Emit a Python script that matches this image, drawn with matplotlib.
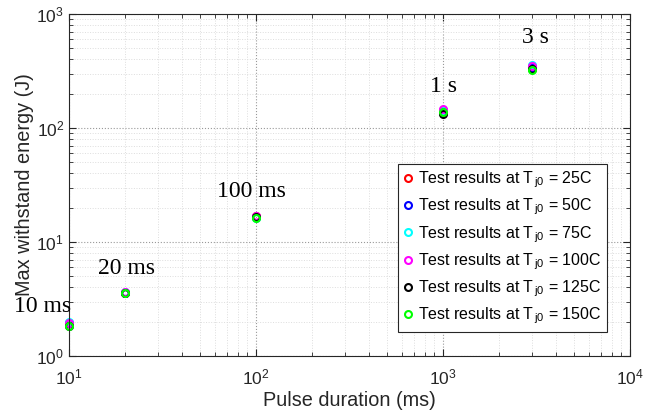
import numpy as np
import matplotlib
matplotlib.use("Agg")
import matplotlib.pyplot as plt
from matplotlib.ticker import LogLocator, FixedLocator, FixedFormatter

plt.rcParams["font.family"] = ["Liberation Sans", "DejaVu Sans"]
plt.rcParams["mathtext.fontset"] = "custom"
plt.rcParams["mathtext.rm"] = "Liberation Sans"
plt.rcParams["mathtext.it"] = "Liberation Sans"
plt.rcParams["mathtext.default"] = "regular"

# pulse durations (ms)
durations = [10, 20, 100, 1000, 3000]

temps = ["25", "50", "75", "100", "125", "150"]
colors = ["red", "blue", "cyan", "magenta", "black", "lime"]

# max withstand energy (J) per junction temperature
energy_25 = [1.95, 3.60, 17.0, 140, 345]
energy_50 = [1.95, 3.60, 16.6, 137, 340]
energy_75 = [2.00, 3.65, 16.4, 143, 355]
energy_100 = [1.95, 3.65, 16.8, 146, 350]
energy_125 = [1.85, 3.55, 16.6, 134, 330]
energy_150 = [1.85, 3.60, 16.4, 137, 325]
energies = [energy_25, energy_50, energy_75, energy_100, energy_125, energy_150]

labels = ["10 ms", "20 ms", "100 ms", "1 s", "3 s"]
label_x = [7.2, 20.2, 95, 1000, 3140]
label_y = [2.7, 5.8, 27.5, 229, 627]

fig = plt.figure(figsize=(6.61, 4.19), dpi=100)
ax = fig.add_axes([69 / 661, 1 - 356 / 419, (630 - 69) / 661, (356 - 14) / 419])

for t, c, e in zip(temps, colors, energies):
    ax.plot(durations, e, "o", mfc="none", mec=c, mew=1.5, ms=5, clip_on=False,
            label="Test results at T$_{\\,j0}$ = " + t + "C")

for s, x, y in zip(labels, label_x, label_y):
    ax.text(x, y, s, ha="center", va="center", fontsize=17,
            family=["Liberation Serif", "DejaVu Serif"])

ax.set_xscale("log")
ax.set_yscale("log")
ax.set_xlim(10, 1e4)
ax.set_ylim(1, 1e3)

ax.xaxis.set_major_locator(FixedLocator([10, 100, 1000, 10000]))
ax.xaxis.set_major_formatter(FixedFormatter(["$10^1$", "$10^2$", "$10^3$", "$10^4$"]))
ax.yaxis.set_major_locator(FixedLocator([1, 10, 100, 1000]))
ax.yaxis.set_major_formatter(FixedFormatter(["$10^0$", "$10^1$", "$10^2$", "$10^3$"]))
ax.xaxis.set_minor_locator(LogLocator(base=10, subs=np.arange(2, 10)))
ax.yaxis.set_minor_locator(LogLocator(base=10, subs=np.arange(2, 10)))
ax.xaxis.set_minor_formatter(plt.NullFormatter())
ax.yaxis.set_minor_formatter(plt.NullFormatter())

ax.tick_params(which="both", direction="in", top=True, right=True, labelsize=12.5, colors="#262626")
ax.tick_params(which="major", length=5)
ax.tick_params(which="minor", length=3)
ax.tick_params(axis="x", which="major", pad=8)
for sp in ax.spines.values():
    sp.set_color("#262626")

ax.grid(True, which="major", ls=":", color="#999999", lw=0.8)
ax.grid(True, which="minor", ls=":", color="#dddddd", lw=0.7)
ax.set_axisbelow(True)

ax.set_xlabel("Pulse duration (ms)", fontsize=14.3, color="#262626", labelpad=3)
ax.set_ylabel("Max withstand energy (J)", fontsize=14.3, color="#262626", labelpad=2)

leg = ax.legend(loc="lower right", bbox_to_anchor=(0.959, 0.07), fontsize=11.5,
                fancybox=False, framealpha=1, edgecolor="#262626",
                handlelength=0.5, handletextpad=0.4, borderpad=0.35, labelspacing=0.42,
                borderaxespad=0)
leg.get_frame().set_linewidth(0.8)

fig.savefig("out.png", dpi=100)
